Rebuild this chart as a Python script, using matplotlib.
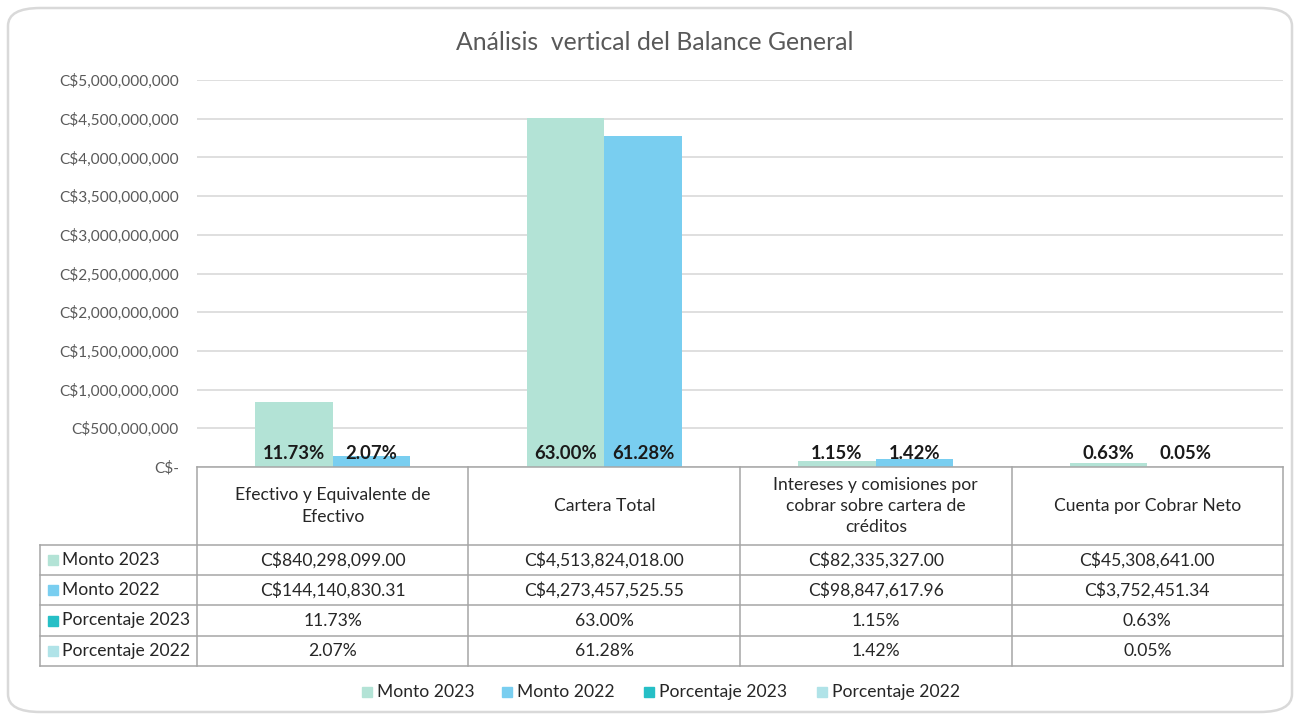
import matplotlib
matplotlib.use("Agg")
import matplotlib.pyplot as plt
from matplotlib.patches import FancyBboxPatch, Rectangle
import numpy as np

plt.rcParams['font.family'] = ['Lato', 'DejaVu Sans']

categories = ["Efectivo y Equivalente de\nEfectivo", "Cartera Total",
              "Intereses y comisiones por\ncobrar sobre cartera de\ncréditos",
              "Cuenta por Cobrar Neto"]
monto_2023 = [840298099.00, 4513824018.00, 82335327.00, 45308641.00]
monto_2022 = [144140830.31, 4273457525.55, 98847617.96, 3752451.34]
pct_2023 = [11.73, 63.00, 1.15, 0.63]
pct_2022 = [2.07, 61.28, 1.42, 0.05]
series_names = ["Monto 2023", "Monto 2022", "Porcentaje 2023", "Porcentaje 2022"]
yticks = [0, 500e6, 1000e6, 1500e6, 2000e6, 2500e6, 3000e6, 3500e6, 4000e6, 4500e6, 5000e6]

colors = ["#B3E3D6", "#79CEF0", "#26BFC6", "#B0E3E8"]
W, H = 1295, 715
fig = plt.figure(figsize=(W/100, H/100), dpi=100)

def fx(x): return x / W
def fy(y): return 1 - y / H

# outer rounded border
border = FancyBboxPatch((fx(8), fy(712)), fx(1284), (712-8)/H,
                        boxstyle="round,pad=0,rounding_size=0.025",
                        transform=fig.transFigure, fill=False,
                        edgecolor="#D9D9D9", linewidth=1.8, clip_on=False)
fig.patches.append(border)

x0, x1, ytop, ybot = 197, 1283, 80, 467
ax = fig.add_axes([fx(x0), fy(ybot), (x1-x0)/W, (ybot-ytop)/H])
n = len(categories)
x = np.arange(n)
bw = 0.285
ax.bar(x - bw/2, monto_2023, bw, color=colors[0], zorder=3)
ax.bar(x + bw/2, monto_2022, bw, color=colors[1], zorder=3)
ax.set_xlim(-0.5, n - 0.5)
ax.set_ylim(0, 5e9)
ax.set_yticks(yticks)
labels = ["C$-"] + ["C${:,.0f}".format(v) for v in yticks[1:]]
ax.set_yticklabels(labels, color="#595959", fontsize=11.1)
ax.tick_params(axis='y', length=0, pad=13)
ax.tick_params(axis='x', length=0, labelbottom=False)
ax.grid(axis='y', color="#D9D9D9", linewidth=1.2, zorder=0)
for s in ax.spines.values():
    s.set_visible(False)
for i in range(n):
    ax.text(x[i] - bw/2, 70e6, "{:.2f}%".format(pct_2023[i]), ha='center', va='bottom',
            fontsize=13.3, fontweight='bold', color="#1a1a1a", zorder=4)
    ax.text(x[i] + bw/2, 70e6, "{:.2f}%".format(pct_2022[i]), ha='center', va='bottom',
            fontsize=13.3, fontweight='bold', color="#1a1a1a", zorder=4)

# title
fig.text(fx(655), fy(42), "Análisis  vertical del Balance General", ha='center', va='center',
         fontsize=17.8, color="#595959")

# data table
lc = "#A6A6A6"
col_edges = [x0 + (x1 - x0) * i / n for i in range(n + 1)]
row_edges = [467, 545, 575, 605, 636, 666]
tleft = 40
def line(xa, ya, xb, yb):
    fig.add_artist(plt.Line2D([fx(xa), fx(xb)], [fy(ya), fy(yb)], color=lc, lw=1.1,
                              transform=fig.transFigure))
line(x0, row_edges[0], x1, row_edges[0])
for r in row_edges[1:]:
    line(tleft, r, x1, r)
for c in col_edges:
    line(c, row_edges[0], c, row_edges[-1])
line(tleft, row_edges[1], tleft, row_edges[-1])

txtc = "#262626"
fs = 12.6
for i in range(n):
    cx = (col_edges[i] + col_edges[i+1]) / 2
    fig.text(fx(cx), fy((row_edges[0] + row_edges[1]) / 2), categories[i], ha='center',
             va='center', fontsize=fs, color=txtc, linespacing=1.4)
rows = [
    ["C${:,.2f}".format(v) for v in monto_2023],
    ["C${:,.2f}".format(v) for v in monto_2022],
    ["{:.2f}%".format(v) for v in pct_2023],
    ["{:.2f}%".format(v) for v in pct_2022],
]
for r in range(4):
    cy = (row_edges[r+1] + row_edges[r+2]) / 2
    fig.add_artist(Rectangle((fx(48), fy(cy + 5)), 10/W, 10/H, transform=fig.transFigure,
                             color=colors[r]))
    fig.text(fx(62), fy(cy), series_names[r], ha='left', va='center', fontsize=fs, color=txtc)
    for i in range(n):
        cx = (col_edges[i] + col_edges[i+1]) / 2
        fig.text(fx(cx), fy(cy), rows[r][i], ha='center', va='center', fontsize=fs, color=txtc)

# legend
leg_items = [(362, series_names[0]), (502, series_names[1]), (644, series_names[2]), (817, series_names[3])]
for (lx, name), col in zip(leg_items, colors):
    fig.add_artist(Rectangle((fx(lx), fy(697)), 10/W, 10/H, transform=fig.transFigure, color=col))
    fig.text(fx(lx + 15), fy(692), name, ha='left', va='center', fontsize=fs, color=txtc)

fig.savefig("out.png", dpi=100)
